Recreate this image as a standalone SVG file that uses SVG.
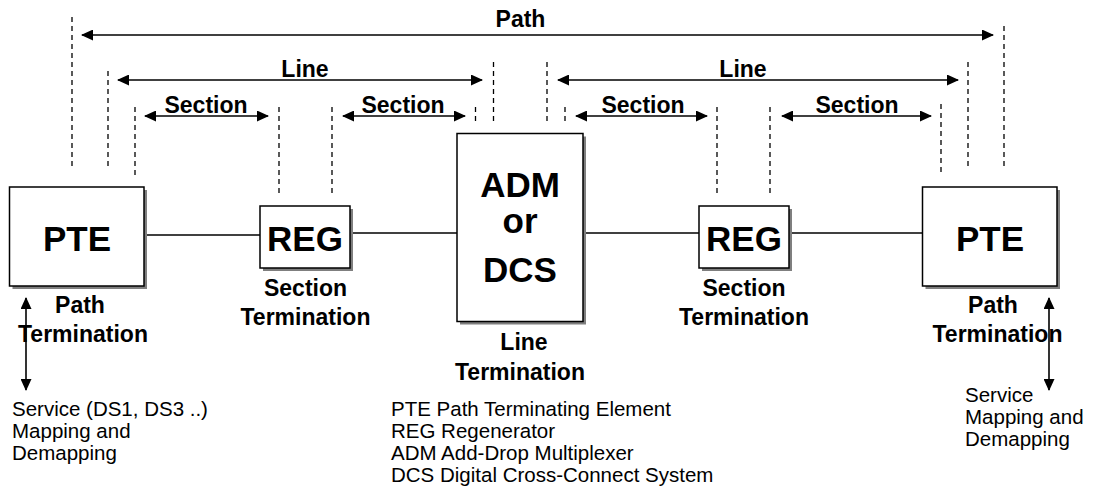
<svg xmlns="http://www.w3.org/2000/svg" width="1095" height="495" viewBox="0 0 1095 495">
<defs>
<marker id="ah" markerUnits="userSpaceOnUse" markerWidth="12" markerHeight="11" refX="11" refY="5.5" orient="auto-start-reverse">
<path d="M0,0 L12,5.5 L0,11 Z" fill="#000"/>
</marker>
</defs>
<style>
.box{fill:#fff;stroke:#000;stroke-width:1.5}
.shadow{fill:#7f7f7f}
.big{font-family:"Liberation Sans",Arial,sans-serif;font-weight:bold;font-size:35px;text-anchor:middle;fill:#000}
.lbl{font-family:"Liberation Sans",Arial,sans-serif;font-weight:bold;font-size:23px;text-anchor:middle;fill:#000}
.txt{font-family:"Liberation Sans",Arial,sans-serif;font-size:20.5px;fill:#000}
.dash{stroke:#000;stroke-width:1.3;stroke-dasharray:5 4;fill:none}
.wire{stroke:#000;stroke-width:1.3;fill:none}
.dim{stroke:#000;stroke-width:1.6;fill:none;marker-start:url(#ah);marker-end:url(#ah)}
</style>
<rect width="1095" height="495" fill="#fff"/>

<g id="connectors">
<line class="wire" x1="144" y1="235" x2="260" y2="235"/>
<line class="wire" x1="350" y1="233" x2="457" y2="233"/>
<line class="wire" x1="583" y1="233" x2="699" y2="233"/>
<line class="wire" x1="789" y1="233" x2="922.5" y2="233"/>

<line class="dash" x1="72" y1="17" x2="72" y2="170"/>
<line class="dash" x1="108" y1="71" x2="108" y2="167"/>
<line class="dash" x1="135" y1="107" x2="135" y2="178"/>
<line class="dash" x1="279" y1="107" x2="279" y2="193"/>
<line class="dash" x1="332" y1="107" x2="332" y2="193"/>
<line class="dash" x1="475.5" y1="107" x2="475.5" y2="123"/>
<line class="dash" x1="493.5" y1="62" x2="493.5" y2="124"/>
<line class="dash" x1="547" y1="62" x2="547" y2="124"/>
<line class="dash" x1="565" y1="107" x2="565" y2="123"/>
<line class="dash" x1="717" y1="107" x2="717" y2="193"/>
<line class="dash" x1="770" y1="107" x2="770" y2="193"/>
<line class="dash" x1="941" y1="104" x2="941" y2="175"/>
<line class="dash" x1="968" y1="62" x2="968" y2="168"/>
<line class="dash" x1="1004" y1="26" x2="1004" y2="170"/>

<line class="dim" x1="82" y1="35" x2="993" y2="35"/>
<line class="dim" x1="118" y1="80" x2="482" y2="80"/>
<line class="dim" x1="558" y1="80" x2="958" y2="80"/>
<line class="dim" x1="145" y1="116" x2="268" y2="116"/>
<line class="dim" x1="343" y1="116" x2="465" y2="116"/>
<line class="dim" x1="576" y1="116" x2="707" y2="116"/>
<line class="dim" x1="782" y1="116" x2="931" y2="116"/>

<line class="dim" x1="26" y1="298" x2="26" y2="390"/>
<line class="dim" x1="1049" y1="298" x2="1049" y2="390"/>

<text class="lbl" x="520.5" y="27">Path</text>
<text class="lbl" x="305" y="77">Line</text>
<text class="lbl" x="743" y="77">Line</text>
<text class="lbl" x="206" y="113">Section</text>
<text class="lbl" x="403" y="113">Section</text>
<text class="lbl" x="643" y="113">Section</text>
<text class="lbl" x="857" y="113">Section</text>
</g>

<g id="pte-left">
<rect class="shadow" x="12.5" y="190" width="134.5" height="99"/>
<rect class="box" x="9.5" y="187" width="134.5" height="99"/>
<text class="big" x="77" y="251">PTE</text>
<text class="lbl" x="80" y="313">Path</text>
<text class="lbl" x="83" y="342">Termination</text>
<text class="txt" x="12" y="416">Service (DS1, DS3 ..)</text>
<text class="txt" x="12" y="438">Mapping and</text>
<text class="txt" x="12" y="460">Demapping</text>
</g>

<g id="reg-left">
<rect class="shadow" x="263" y="209" width="90" height="62"/>
<rect class="box" x="260" y="206" width="90" height="62"/>
<text class="big" x="305" y="251">REG</text>
<text class="lbl" x="305.5" y="296">Section</text>
<text class="lbl" x="305.5" y="325">Termination</text>
</g>

<g id="adm-dcs">
<rect class="shadow" x="460" y="136.5" width="126" height="188"/>
<rect class="box" x="457" y="133.5" width="126" height="188"/>
<text class="big" x="520" y="197">ADM</text>
<text class="big" x="520" y="233">or</text>
<text class="big" x="520" y="282">DCS</text>
<text class="lbl" x="524" y="350">Line</text>
<text class="lbl" x="520" y="380">Termination</text>
</g>

<g id="reg-right">
<rect class="shadow" x="702" y="209" width="90" height="62"/>
<rect class="box" x="699" y="206" width="90" height="62"/>
<text class="big" x="744" y="251">REG</text>
<text class="lbl" x="744" y="296">Section</text>
<text class="lbl" x="744" y="325">Termination</text>
</g>

<g id="pte-right">
<rect class="shadow" x="925.5" y="190" width="134.5" height="99"/>
<rect class="box" x="922.5" y="187" width="134.5" height="99"/>
<text class="big" x="990" y="251">PTE</text>
<text class="lbl" x="993" y="313">Path</text>
<text class="lbl" x="997.5" y="342">Termination</text>
<text class="txt" x="965" y="402">Service</text>
<text class="txt" x="965" y="424">Mapping and</text>
<text class="txt" x="965" y="446">Demapping</text>
</g>

<g id="legend">
<text class="txt" x="391" y="416">PTE Path Terminating Element</text>
<text class="txt" x="391" y="438">REG Regenerator</text>
<text class="txt" x="391" y="460">ADM Add-Drop Multiplexer</text>
<text class="txt" x="391" y="482">DCS Digital Cross-Connect System</text>
</g>
</svg>
